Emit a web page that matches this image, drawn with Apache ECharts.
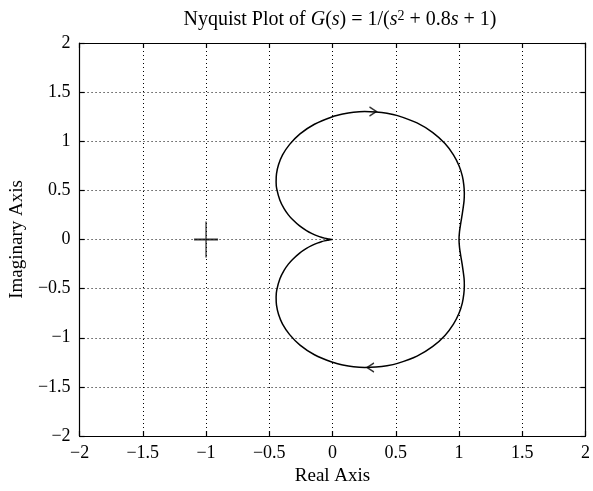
<!DOCTYPE html>
<html>
<head>
<meta charset="utf-8">
<title>Nyquist Plot</title>
<script src="https://cdn.jsdelivr.net/npm/echarts@6/dist/echarts.min.js"></script>
<style>
    html, body { margin: 0; padding: 0; background: #fff; }
    #nyquist { width: 593px; height: 491px; }
</style>
</head>
<body>
<div id="nyquist"></div>
<script>
// tick values for both axes
const xTicks = [-2, -1.5, -1, -0.5, 0, 0.5, 1, 1.5, 2];
const yTicks = [-2, -1.5, -1, -0.5, 0, 0.5, 1, 1.5, 2];

// Nyquist contour, from origin (w -> -inf) over the upper half to 1, then the lower half back to origin
const realPart = [
    0.000, -0.010, -0.028, -0.041, -0.064, -0.084, -0.115, -0.166, -0.206, -0.260, -0.316, -0.349,
    -0.383, -0.416, -0.441, -0.446, -0.443, -0.427, -0.395, -0.339, -0.257, -0.143, 0.000, 0.081,
    0.166, 0.254, 0.343, 0.430, 0.514, 0.668, 0.793, 0.889, 0.956, 1.000, 1.026, 1.038, 1.042,
    1.040, 1.027, 1.014, 1.004, 1.000,
    1.004, 1.014, 1.027, 1.040, 1.042, 1.038, 1.026, 1.000, 0.956, 0.889, 0.793, 0.668, 0.514,
    0.430, 0.343, 0.254, 0.166, 0.081, 0.000, -0.143, -0.257, -0.339, -0.395, -0.427, -0.443,
    -0.446, -0.441, -0.416, -0.383, -0.349, -0.316, -0.260, -0.206, -0.166, -0.115, -0.084, -0.064,
    -0.041, -0.028, -0.010, 0.000
];
const imagPart = [
    0.000, 0.001, 0.004, 0.007, 0.014, 0.021, 0.034, 0.063, 0.091, 0.138, 0.203, 0.251,
    0.314, 0.400, 0.515, 0.586, 0.668, 0.760, 0.861, 0.968, 1.075, 1.173, 1.250, 1.277,
    1.295, 1.302, 1.298, 1.285, 1.261, 1.187, 1.088, 0.976, 0.861, 0.750, 0.647, 0.554, 0.470,
    0.396, 0.271, 0.169, 0.081, 0.000,
    -0.081, -0.169, -0.271, -0.396, -0.470, -0.554, -0.647, -0.750, -0.861, -0.976, -1.088, -1.187, -1.261,
    -1.285, -1.298, -1.302, -1.295, -1.277, -1.250, -1.173, -1.075, -0.968, -0.861, -0.760, -0.668,
    -0.586, -0.515, -0.400, -0.314, -0.251, -0.203, -0.138, -0.091, -0.063, -0.034, -0.021, -0.014,
    -0.007, -0.004, -0.001, 0.000
];

// direction arrows on the contour and the -1 critical point
const arrowPoints = [[0.32, 1.303], [0.30, -1.303]];
const arrowAngles = [0, 180];
const criticalPoint = [[-1, 0]];

const fontName = '"Liberation Serif", "DejaVu Serif", serif';

function fmtTick(v) {
    return String(v).replace('-', '\u2212');
}

let chart = echarts.init(document.getElementById('nyquist'), null, { renderer: 'canvas' });

let curveData = realPart.map(function (re, i) { return [re, imagPart[i]]; });
let arrowData = arrowPoints.map(function (p, i) {
    return { value: p, symbolRotate: arrowAngles[i] };
});

let axisCommon = {
    type: 'value',
    min: -2,
    max: 2,
    interval: 0.5,
    axisLine: { show: true, onZero: false, lineStyle: { color: '#000', width: 1.2 } },
    axisTick: { show: true, inside: true, length: 5, lineStyle: { color: '#000', width: 1.2 } },
};

let option = {
    backgroundColor: '#fff',
    animation: false,
    title: {
        text: 'Nyquist Plot of {i|G}({i|s}) = 1/({i|s}{sup|2} + 0.8{i|s} + 1)',
        left: 335,
        textAlign: 'center',
        top: 4,
        textStyle: {
            fontFamily: fontName,
            fontSize: 20,
            fontWeight: 'normal',
            color: '#000',
            lineHeight: 22,
            rich: {
                i: { fontFamily: fontName, fontSize: 20, fontStyle: 'italic', color: '#000', lineHeight: 22 },
                sup: { fontFamily: fontName, fontSize: 14, color: '#000', verticalAlign: 'top', lineHeight: 22 }
            }
        }
    },
    grid: {
        left: 79,
        right: 3,
        top: 43,
        bottom: 48,
        containLabel: false
    },
    xAxis: [
        Object.assign({}, axisCommon, {
            position: 'bottom',
            name: 'Real Axis',
            nameLocation: 'middle',
            nameGap: 31,
            nameTextStyle: { fontFamily: fontName, fontSize: 19, color: '#000' },
            axisLabel: {
                margin: 8,
                fontFamily: fontName,
                fontSize: 18,
                color: '#000',
                formatter: function (v) { return xTicks.indexOf(v) >= 0 ? fmtTick(v) : ''; }
            },
            splitLine: { show: true, lineStyle: { color: '#000', width: 1, type: [1, 3] } }
        }),
        Object.assign({}, axisCommon, {
            position: 'top',
            axisLabel: { show: false },
            splitLine: { show: false }
        })
    ],
    yAxis: [
        Object.assign({}, axisCommon, {
            position: 'left',
            name: 'Imaginary Axis',
            nameLocation: 'middle',
            nameGap: 52,
            nameTextStyle: { fontFamily: fontName, fontSize: 19, color: '#000' },
            axisLabel: {
                margin: 9,
                fontFamily: fontName,
                fontSize: 18,
                color: '#000',
                formatter: function (v) { return yTicks.indexOf(v) >= 0 ? fmtTick(v) : ''; }
            },
            splitLine: { show: true, lineStyle: { color: '#000', width: 1, type: [1, 3] } }
        }),
        Object.assign({}, axisCommon, {
            position: 'right',
            axisLabel: { show: false },
            splitLine: { show: false }
        })
    ],
    series: [
        {
            name: 'G(jw)',
            type: 'line',
            xAxisIndex: 0,
            yAxisIndex: 0,
            data: curveData,
            showSymbol: false,
            smooth: 0.3,
            silent: true,
            lineStyle: { color: '#000', width: 1.5 }
        },
        {
            name: 'arrows',
            type: 'scatter',
            xAxisIndex: 0,
            yAxisIndex: 0,
            data: arrowData,
            symbol: 'path://M0,0L10,5L0,10',
            symbolSize: [7, 9],
            silent: true,
            itemStyle: { color: 'none', borderColor: '#000', borderWidth: 1.3 }
        },
        {
            name: 'critical',
            type: 'scatter',
            xAxisIndex: 0,
            yAxisIndex: 0,
            data: criticalPoint,
            symbol: 'path://M0,5L10,5M5,0L5,10',
            symbolSize: [24, 36],
            silent: true,
            itemStyle: { color: 'none', borderColor: '#000', borderWidth: 1.6 }
        }
    ]
};

chart.setOption(option);
</script>
</body>
</html>
